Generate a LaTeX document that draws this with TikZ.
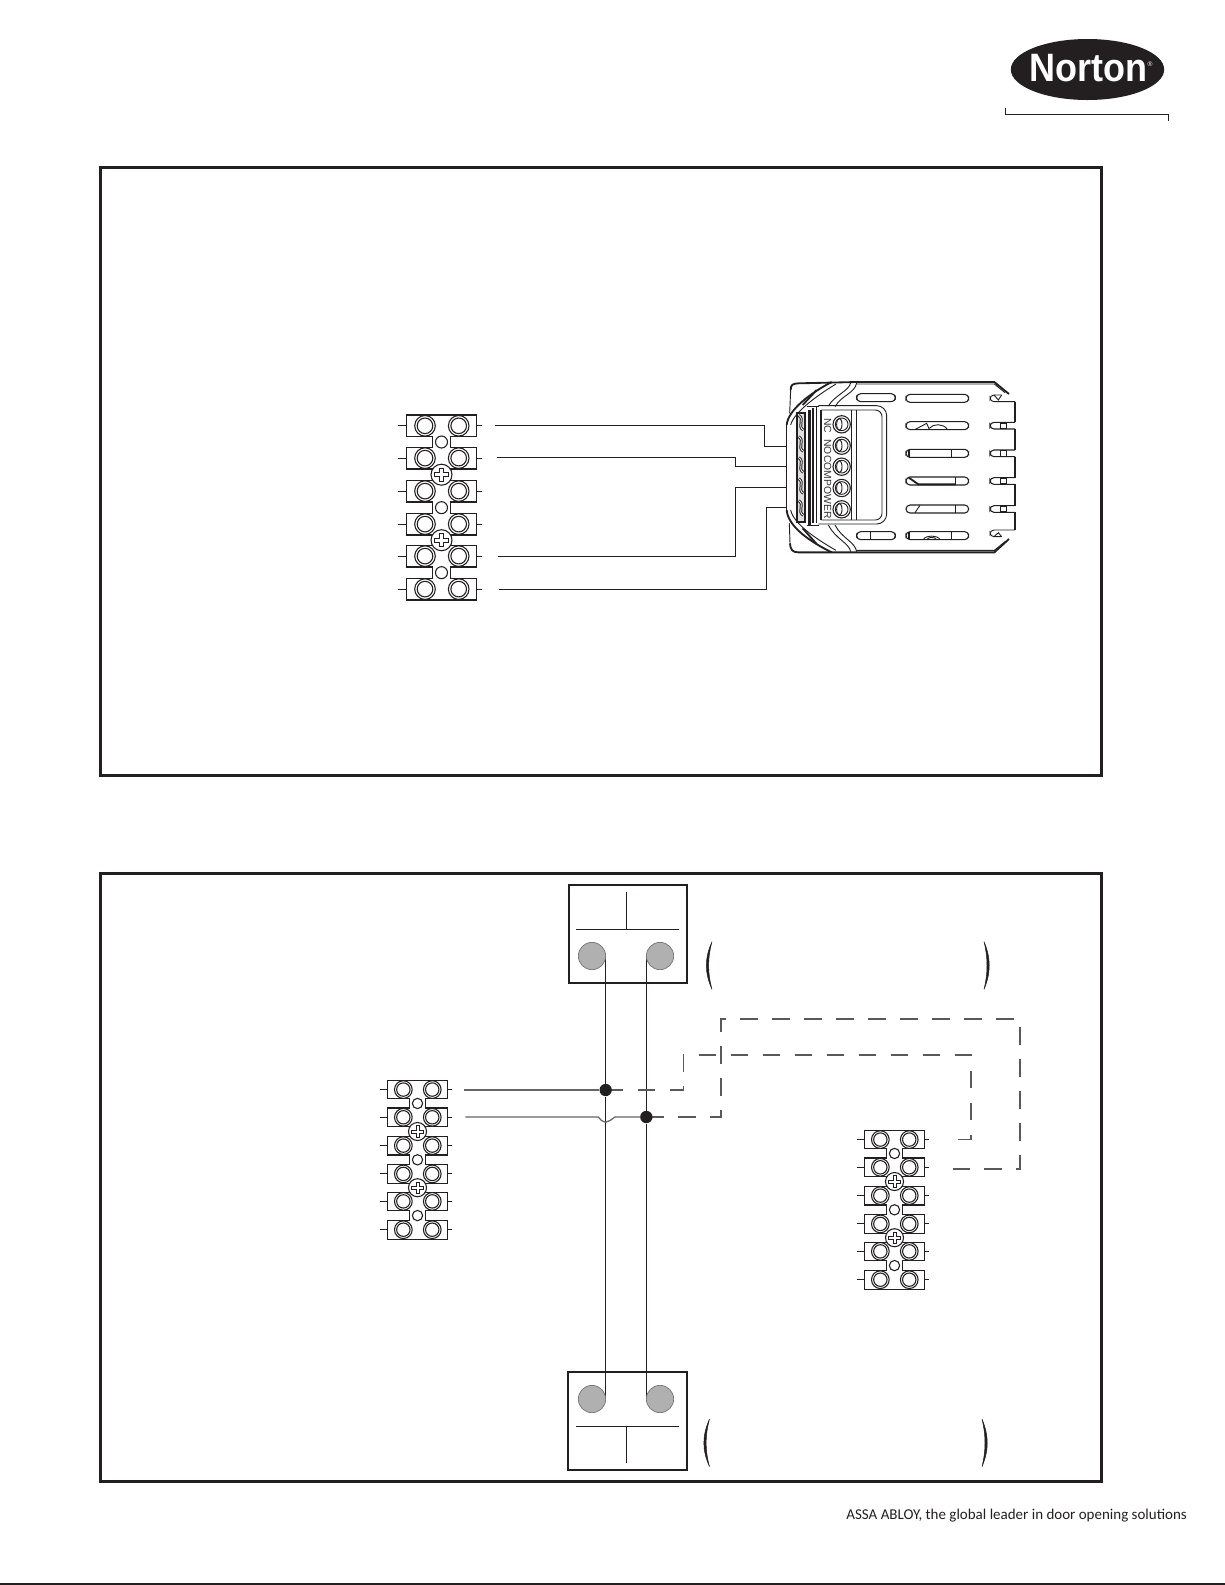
\documentclass[tikz,border=0pt]{standalone}
\usepackage{fontspec}
\usepackage{xcolor}
\usetikzlibrary{positioning,calc,shapes.geometric,backgrounds}
\setmainfont{Carlito}
\newfontfamily\labelfont{Liberation Sans}
\definecolor{NortonBlack}{HTML}{231F20}
\definecolor{ContactGray}{HTML}{B0B0B0}

\begin{document}
\begin{tikzpicture}[x=0.6pt,y=-0.6pt,
                % Style of frames and plain lines
                panel/.style={draw=NortonBlack, line width=1.8pt},
                line/.style={draw=NortonBlack, line width=0.65pt},
                devline/.style={draw=NortonBlack, line width=0.55pt},
                devthick/.style={draw=NortonBlack, line width=1.1pt},
                % Style of wires
                wire/.style={draw=NortonBlack, line width=0.6pt},
                graywire/.style={draw=black!60, line width=0.75pt},
                dashwire/.style={draw=black!65, line width=0.75pt, dash pattern=on 10.4pt off 8.8pt},
                % Style of nodes
                junction/.style={circle, fill=NortonBlack, minimum size=7.4pt, inner sep=0pt},
                contact/.style={circle, draw=black!55, line width=0.4pt, fill=ContactGray, minimum size=16.4pt, inner sep=0pt, outer sep=0pt},
                contactbox/.style={rectangle, draw=NortonBlack, line width=1.2pt, minimum width=70.5pt, minimum height=58.5pt, inner sep=0pt},
                pinlabel/.style={font=\labelfont\fontsize{6.2}{6.2}\selectfont, rotate=-90, text=black!80, inner sep=0pt},
                % One six-row terminal block, origin at top left of the first row
                termblock/.pic={
                    \foreach \ytop in {0,32.3,65.3,98.3,130.3,163.3} {
                        \draw[line] (-8,\ytop+10.8) -- (0,\ytop+10.8);
                        \draw[line] (70.4,\ytop+10.8) -- (75.4,\ytop+10.8);
                        \draw[line, fill=white] (0,\ytop) rectangle (70.4,\ytop+21.7);
                        \foreach \xscrew in {18.7,52.4} {
                            \draw[line] (\xscrew,\ytop+10.8) circle (10.3);
                            \draw[line] (\xscrew,\ytop+10.8) circle (7.8);
                        }
                    }
                    % necks with the small hole
                    \foreach \ylow/\yhigh in {21.7/32.3,87/98.3,152/163.3} {
                        \fill[white] (26.3,\ylow-1) rectangle (44,\yhigh+1);
                        \draw[line] (26.3,\ylow) -- (26.3,\yhigh);
                        \draw[line] (44,\ylow) -- (44,\yhigh);
                        \draw[line] (35.2,{(\ylow+\yhigh)/2}) circle (6);
                    }
                    % the two cross-head screws
                    \foreach \ymid in {59.7,125.2} {
                        \draw[line, fill=white] (35.2,\ymid) circle (10.5);
                        \begin{scope}[shift={(35.2,\ymid)}]
                            \draw[devline] (-1.8,-6.7) -- (1.8,-6.7) -- (1.8,-1.8) -- (6.7,-1.8) -- (6.7,1.8) -- (1.8,1.8)
                                -- (1.8,6.7) -- (-1.8,6.7) -- (-1.8,1.8) -- (-6.7,1.8) -- (-6.7,-1.8) -- (-1.8,-1.8) -- cycle;
                        \end{scope}
                    }
                }
            ]
    \useasboundingbox (0,0) rectangle (1225,1585);

    % --- LOGO ---
    \node[ellipse, fill=NortonBlack, minimum width=92pt, minimum height=36.6pt, inner sep=0pt] (logo) at (1087.5,69.5) {};
    \node[text=white, inner sep=0pt, yscale=1.1, transform shape,
          font=\labelfont\bfseries\fontsize{21.6}{22}\selectfont] (logotext) at (1088.5,68) {Norton};
    \node[text=white, inner sep=0pt, font=\labelfont\fontsize{4}{4}\selectfont] (logoreg) at (1150,64) {®};
    \draw[line, line width=0.7pt] (1005.5,108) -- (1005.5,114.5) -- (1168.5,114.5) -- (1168.5,120.5);

    % --- FRAMES ---
    \draw[panel] (100.5,167.5) rectangle (1101.8,775);
    \draw[panel] (100.5,873.5) rectangle (1101.8,1481.5);

    % --- UPPER PANEL ---
    \pic (uppertb) at (406.3,415) {termblock};

    \coordinate (wa) at (495,425);
    \coordinate (wb) at (496.7,457.7);
    \coordinate (wc) at (498.3,556);
    \coordinate (wd) at (499.3,589);
    \coordinate (pa) at (786,446);
    \coordinate (pb) at (786,466.7);
    \coordinate (pc) at (786,487.7);
    \coordinate (pd) at (786,507.3);
    \draw[wire] (wa) -| (764.3,446) -- (pa);
    \draw[wire] (wb) -| (735.8,466.7) -- (pb);
    \draw[wire] (wc) -| (735.8,487.7) -- (pc);
    \draw[wire] (wd) -| (766,507.3) -- (pd);

    % Device, in units of a third of a pixel
    \begin{scope}[shift={(760,360)},scale=1/3]
        % outline
        \draw[devthick] (92,90) .. controls (92,74) and (98,71) .. (115,70) -- (290,66) -- (703,66) -- (747,102);
        \draw[devline] (290,72) -- (703,72) -- (735,98);
        \draw[devthick] (747,537) -- (703,577) -- (115,577) .. controls (98,576) and (92,572) .. (90,550);
        \draw[devline] (290,571) -- (703,571) -- (735,545);
        \draw[devline] (92,90) -- (89,160);
        \draw[devline] (90,550) -- (88,490);
        \draw[devthick] (80,195) .. controls (84,150) and (150,100) .. (215,66);
        \draw[devline] (92,195) .. controls (100,160) and (165,110) .. (228,72);
        \draw[devline] (80,195) -- (80,450);
        \draw[devthick] (80,450) .. controls (84,500) and (150,545) .. (215,577);
        \draw[devline] (92,450) .. controls (100,490) and (165,535) .. (228,571);
        \draw[devline] (290,68) .. controls (285,100) and (245,105) .. (225,140);
        \draw[devline] (272,68) .. controls (268,92) and (225,105) .. (205,138);
        \draw[devline] (290,575) .. controls (285,545) and (245,535) .. (225,495);
        \draw[devline] (272,575) .. controls (268,550) and (225,535) .. (205,495);
        \draw[devthick] (128,135) -- (170,90);
        \draw[devthick] (128,505) -- (170,552);
        % terminal strip
        \draw[devthick, line width=1.3pt, fill=black!12] (110,159) rectangle (136,486);
        \foreach \ys in {188,252,315,378,444} {
            \draw[NortonBlack, line width=1.7pt] (116,\ys-22) .. controls (136,\ys-10) and (110,\ys+10) .. (130,\ys+22);
            \draw[white, line width=0.5pt] (116,\ys-22) .. controls (136,\ys-10) and (110,\ys+10) .. (130,\ys+22);
        }
        \draw[devthick, line width=1.6pt] (148,150) -- (148,495);
        \draw[devthick] (160,145) -- (160,490);
        \draw[devline] (140,140) -- (178,140);
        \draw[devline] (140,495) -- (178,495);
        \draw[devline] (170,140) -- (170,490);
        \draw[devthick] (184,150) -- (184,480);
        % connector housing
        \draw[devline, rounded corners=6pt] (175,137) -- (380,137) -- (380,492) -- (175,492);
        \draw[devline, rounded corners=4pt] (184,150) -- (366,150) -- (366,480) -- (184,480);
        \draw[devline] (274,150) -- (274,480);
        \draw[devline] (288,150) -- (288,480);
        \foreach \yscrew in {193,257,320,384,448} {
            \draw[line] (245,\yscrew) circle (26);
            \draw[devline] (245,\yscrew) circle (19);
            \draw[devline] (238,\yscrew) ellipse (8 and 18);
        }
        \node[pinlabel] (pinnc) at (203,197) {NC};
        \node[pinlabel] (pinno) at (203,261) {NO};
        \node[pinlabel] (pincom) at (203,322) {COM};
        \node[pinlabel] (pinpow) at (203,417) {POWER};
        % slots
        \foreach \yslot in {115,197,280,363,447,527} {
            \draw[line, rounded corners=2.4pt] (438,\yslot-12) rectangle (626,\yslot+12);
        }
        \draw[line, rounded corners=2.4pt] (290,101) rectangle (406,125);
        \draw[line, rounded corners=2.4pt] (290,515) rectangle (406,539);
        \draw[devline] (332,515) -- (332,539);
        \draw[devline] (466,208) -- (500,190) -- (508,208);
        \draw[devline] (508,205) .. controls (520,190) and (550,190) .. (562,208);
        \draw[devthick] (447,270) -- (447,292);
        \draw[devline] (447,291) -- (573,291);
        \draw[devline] (573,268) -- (573,292);
        \draw[devthick] (445,352) -- (475,373) -- (587,373);
        \draw[devline] (587,351) -- (587,375);
        \draw[devline] (480,436) -- (465,458);
        \draw[devline] (587,435) -- (587,459);
        \draw[devthick] (447,516) -- (447,538);
        \draw[devline] (573,515) -- (573,539);
        \draw[devline] (490,539) .. controls (495,525) and (535,525) .. (540,539);
        \draw[devline] (500,539) .. controls (505,530) and (525,530) .. (530,539);
        % comb on the right
        \draw[devline, rounded corners=2.4pt] (725,105) -- (690,105) -- (690,125) -- (765,125);
        \draw[devline] (702,105) -- (715,120) -- (725,105);
        \foreach \ycomb in {197,280,363,447} {
            \draw[line, rounded corners=2.4pt] (765,\ycomb-10) -- (690,\ycomb-10) -- (690,\ycomb+10) -- (765,\ycomb+10);
            \draw[devline] (722,\ycomb-8) rectangle (738,\ycomb+8);
        }
        \draw[devline, rounded corners=2.4pt] (765,510) -- (690,510) -- (690,530) -- (725,530);
        \draw[devline] (702,530) -- (715,518) -- (725,530);
        \foreach \ylow/\yhigh in {125/187,207/270,290/353,373/437,457/510} {
            \draw[devthick] (765,\ylow) -- (765,\yhigh);
        }
    \end{scope}

    % --- LOWER PANEL ---
    \pic[scale=.858] (lefttb) at (387.3,1080.3) {termblock};
    \pic[scale=.858] (righttb) at (864.3,1130.3) {termblock};

    % Boxes with their two contacts
    \node[contactbox] (topbox) at (628,934) {};
    \node[contactbox, minimum width=71.3pt] (botbox) at (627.4,1420.8) {};
    \node[contact] (topa) at (592,956) {};
    \node[contact] (topb) at (660,956) {};
    \node[contact] (bota) at (592,1399) {};
    \node[contact] (botb) at (660,1399) {};
    \draw[line] (576,929.3) -- (678.7,929.3);
    \draw[line] (626.3,892) -- (626.3,929.3);
    \draw[line] (576,1426.3) -- (678.7,1426.3);
    \draw[line] (626.3,1426.3) -- (626.3,1463.3);

    % Brackets
    \filldraw[NortonBlack, line width=0.3pt] (712,941.7) .. controls (704.5,958) and (704.5,973) .. (712,989.3) .. controls (707.5,973) and (707.5,958) .. (712,941.7);
    \filldraw[NortonBlack, line width=0.3pt] (984,941.7) .. controls (991,958) and (991,973) .. (984,989.3) .. controls (988,973) and (988,958) .. (984,941.7);
    \filldraw[NortonBlack, line width=0.3pt] (709.5,1419) .. controls (702,1436) and (702,1450) .. (709.5,1466.7) .. controls (705,1450) and (705,1436) .. (709.5,1419);
    \filldraw[NortonBlack, line width=0.3pt] (982,1419) .. controls (989,1436) and (989,1450) .. (982,1466.7) .. controls (986,1450) and (986,1436) .. (982,1419);

    % Wires, kept under the dots
    \node[junction] (ja) at (topa.east |- 0,1090) {};
    \node[junction] (jb) at (topb.west |- 0,1117) {};
    \coordinate (la) at (464.3,1090);
    \coordinate (lb) at (465.3,1117);
    \coordinate (ra) at (958,1139.3);
    \coordinate (rb) at (952.7,1169);
    \begin{scope}[on background layer]
        \draw[wire] (topa.east) -- (ja) -- (bota.east);
        \draw[wire] (topb.west) -- (jb) -- (botb.west);
        \draw[graywire] (la) -- (ja);
        \draw[graywire] (lb) -- (598.3,1117) -- (601.5,1120.5) -- (605.5,1122.3) -- (610,1120.5) -- (615,1117) -- (jb);
        \draw[dashwire] (ja.center) -- (683.3,1090) -- (683.3,1055) -- (971,1055) -- (971,1139.3) -- (ra);
        \draw[dashwire] (jb.center) -- (721,1117) -- (721,1019) -- (1020,1019) -- (1020,1169) -- (rb);
    \end{scope}

    % --- FOOTER ---
    \node[anchor=base west, inner sep=0pt, text=NortonBlack, font=\fontsize{9}{11}\selectfont] (footer) at (846,1519) {ASSA ABLOY, the global leader in door opening solutions};
    \draw[line, line width=0.9pt] (0,1584) -- (1225,1584);
\end{tikzpicture}
\end{document}
